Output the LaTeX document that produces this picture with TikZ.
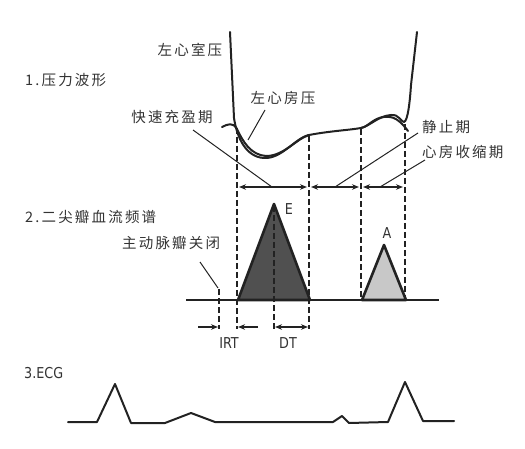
\documentclass[tikz,border=0pt]{standalone}
\usepackage{fontspec}
\usetikzlibrary{arrows.meta}
\newfontfamily\cjk[LetterSpace=15]{Noto Sans CJK SC}
\newfontfamily\latn[FakeStretch=0.85]{DejaVu Sans}
\definecolor{ink}{HTML}{222222}
\definecolor{txt}{HTML}{333333}
\definecolor{efill}{HTML}{505050}
\definecolor{afill}{HTML}{C8C8C8}
\tikzset{
  lbl/.style={font=\cjk\fontsize{14.5}{16}\selectfont, text=txt, inner sep=0pt},
  ltn/.style={font=\latn\fontsize{15}{17}\selectfont, text=txt, inner sep=0pt},
  curve/.style={draw=ink, line width=2pt, line join=round, line cap=round},
  dashv/.style={draw=ink, line width=1.8pt, dash pattern=on 6pt off 3pt},
  leader/.style={draw=ink, line width=1pt},
  dbl/.style={draw=ink, line width=1.3pt, {Stealth[length=7pt,width=5.5pt]}-{Stealth[length=7pt,width=5.5pt]}},
  sgl/.style={draw=ink, line width=1.3pt, -{Stealth[length=7pt,width=5.5pt]}},
  tri/.style={draw=ink, line width=2.6pt, line join=round},
}
\begin{document}
\begin{tikzpicture}[x=1pt,y=-1pt]
\useasboundingbox (0,0) rectangle (525,449);

% ---------- labels ----------
\node[lbl] (lvp) at (190,50) {左心室压};
\node[lbl, anchor=west] (t1) at (25,80) {1.压力波形};
\node[lbl] (lap) at (283,98) {左心房压};
\node[lbl] (rfp) at (172,117) {快速充盈期};
\node[lbl, anchor=west] (rest) at (422,127) {静止期};
\node[lbl, anchor=west] (asys) at (422,152) {心房收缩期};
\node[lbl, anchor=west] (t2) at (25,217) {2.二尖瓣血流频谱};
\node[lbl, anchor=west] (avc) at (122,243) {主动脉瓣关闭};
\node[ltn] (E) at (289,209) {E};
\node[ltn] (A) at (387,233) {A};
\node[ltn] (irt) at (229,343) {IRT};
\node[ltn] (dt) at (288,343) {DT};
\node[ltn, anchor=west] (t3) at (24,373) {3.ECG};

% ---------- pressure curves ----------
% left ventricular pressure
\draw[curve] (230,32) -- (234,118)
  .. controls (237,138) and (246,157) .. (264,158)
  .. controls (282,159) and (295,138) .. (309,135)
  .. controls (330,131) and (350,130) .. (361,128)
  .. controls (370,126) and (378,116) .. (391,115)
  .. controls (399,114) and (401,122) .. (404,122)
  .. controls (408,121) and (410,100) .. (411,85) -- (417,32);
% left atrial pressure
\draw[curve] (222,127) .. controls (228,124) and (233,122) .. (237,129)
  .. controls (243,142) and (251,155) .. (266,156)
  .. controls (284,156) and (296,139) .. (309,135);
\draw[curve] (361,128) .. controls (368,127) and (373,118) .. (384,117)
  .. controls (393,116) and (399,119) .. (408,131);

% ---------- dashed verticals ----------
\coordinate (d1t) at (237,128); \coordinate (d1b) at (237,329);
\coordinate (d2t) at (309,136); \coordinate (d2b) at (309,329);
\coordinate (d3t) at (361,129); \coordinate (d3b) at (361,300);
\coordinate (d4t) at (405,124); \coordinate (d4b) at (405,300);
\coordinate (d5t) at (274,206); \coordinate (d5b) at (274,329);
\coordinate (d6t) at (219,289); \coordinate (d6b) at (219,329);
\foreach \i in {1,2,3,4,6} \draw[dashv] (d\i t) -- (d\i b);

% ---------- interval arrows ----------
\coordinate (a1l) at (239,187); \coordinate (a1r) at (307,187);
\coordinate (a2l) at (311,187); \coordinate (a2r) at (359,187);
\coordinate (a3l) at (363,187); \coordinate (a3r) at (403,187);
\draw[dbl] (a1l) -- (a1r);
\draw[dbl] (a2l) -- (a2r);
\draw[dbl] (a3l) -- (a3r);

% ---------- leaders ----------
\coordinate (lapEnd) at (248,140);
\coordinate (rfpEnd) at (272,187);
\coordinate (restEnd) at (335,187);
\coordinate (asysEnd) at (380,187);
\coordinate (avcEnd) at (218,288);
\draw[leader] (265,110) -- (lapEnd);
\draw[leader] (193,130) -- (rfpEnd);
\draw[leader] (418,133) -- (restEnd);
\draw[leader] (425,160) -- (asysEnd);
\draw[leader] (200,262) -- (avcEnd);

% ---------- Doppler spectrum ----------
\draw[tri, fill=efill] (238,300) -- (274,204) -- (310,300) -- cycle;
\draw[tri, fill=afill] (362,300) -- (384,245) -- (406,300) -- cycle;
\draw[dashv] (d5t) -- (d5b);
\coordinate (bl) at (186,300); \coordinate (br) at (439,300);
\draw[draw=ink, line width=2pt] (bl) -- (br);

% ---------- IRT / DT arrows ----------
\coordinate (i1s) at (198,327); \coordinate (i1e) at (218,327);
\coordinate (i2s) at (258,327); \coordinate (i2e) at (238,327);
\coordinate (dtl) at (275,327); \coordinate (dtr) at (308,327);
\draw[sgl] (i1s) -- (i1e);
\draw[sgl] (i2s) -- (i2e);
\draw[dbl] (dtl) -- (dtr);

% ---------- ECG ----------
\draw[curve, line width=2pt] (68,422) -- (97,422) -- (115,384) -- (131,423) -- (165,423)
  -- (191,413) -- (215,422) -- (333,422) -- (342,416) -- (349,423) -- (388,422)
  -- (405,382) -- (423,421) -- (454,421);
\end{tikzpicture}
\end{document}
